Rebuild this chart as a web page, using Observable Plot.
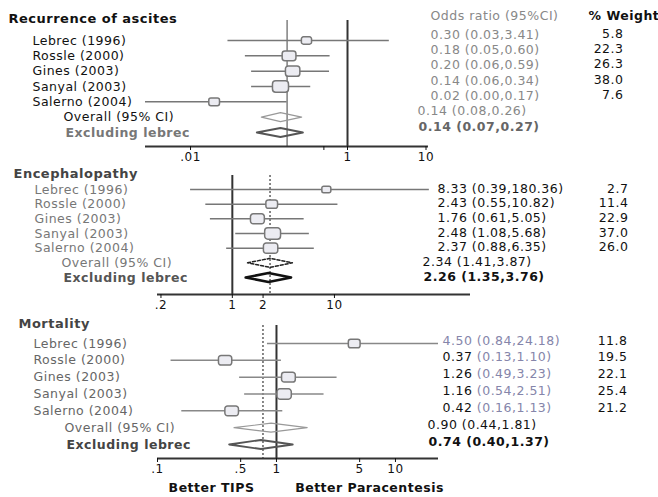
<!DOCTYPE html>
<html><head><meta charset="utf-8">
<script src="https://cdn.jsdelivr.net/npm/d3@7"></script>
<script src="https://cdn.jsdelivr.net/npm/@observablehq/plot@0.6"></script>
<style>body{margin:0;background:#fff} #chart svg{display:block}</style>
</head><body><div id="chart"></div>
<script>
// ---------- data ----------
const studies = ["Lebrec (1996)", "Rossle (2000)", "Gines (2003)", "Sanyal (2003)", "Salerno (2004)"];
const summaryLabels = ["Overall (95% CI)", "Excluding lebrec"];
const panelTitles = ["Recurrence of ascites", "Encephalopathy", "Mortality"];
const headerOR = "Odds ratio (95%CI)";
const headerW = "% Weight";
const sideLabels = ["Better TIPS", "Better Paracentesis"];

const ascitesOR = [0.30, 0.18, 0.20, 0.14, 0.02];
const ascitesLo = [0.03, 0.05, 0.06, 0.06, 0.00];
const ascitesHi = [3.41, 0.60, 0.59, 0.34, 0.17];
const ascitesWeight = [5.8, 22.3, 26.3, 38.0, 7.6];
const ascitesSumOR = [0.14, 0.14];
const ascitesSumLo = [0.08, 0.07];
const ascitesSumHi = [0.26, 0.27];
const ascitesTicks = [0.01, 0.5, 1, 10];
const ascitesTickLabels = [".01", ".5", "1", "10"];

const encOR = [8.33, 2.43, 1.76, 2.48, 2.37];
const encLo = [0.39, 0.55, 0.61, 1.08, 0.88];
const encHi = [180.36, 10.82, 5.05, 5.68, 6.35];
const encWeight = [2.7, 11.4, 22.9, 37.0, 26.0];
const encSumOR = [2.34, 2.26];
const encSumLo = [1.41, 1.35];
const encSumHi = [3.87, 3.76];
const encTicks = [0.2, 1, 2, 10];
const encTickLabels = [".2", "1", "2", "10"];

const mortOR = [4.50, 0.37, 1.26, 1.16, 0.42];
const mortLo = [0.84, 0.13, 0.49, 0.54, 0.16];
const mortHi = [24.18, 1.10, 3.23, 2.51, 1.13];
const mortWeight = [11.8, 19.5, 22.1, 25.4, 21.2];
const mortSumOR = [0.90, 0.74];
const mortSumLo = [0.44, 0.40];
const mortSumHi = [1.81, 1.37];
const mortTicks = [0.1, 0.5, 1, 5, 10];
const mortTickLabels = [".1", ".5", "1", "5", "10"];

const refLines = [0.17, 2.34, 0.77];

// ---------- helpers ----------
const W = 658;
const FONT = "DejaVu Sans, sans-serif";
const FS = 12.5;
const LS = 0.5;
const ctx2d = document.createElement("canvas").getContext("2d");
function textW(str, size = FS, weight = "normal") {
  ctx2d.font = `${weight} ${size}px "DejaVu Sans"`;
  return ctx2d.measureText(str).width + LS * str.length;
}
const f2 = v => v.toFixed(2);

function buildRows(or, lo, hi, w, sOr, sLo, sHi) {
  const r = studies.map((label, i) => ({i, label, or: or[i], lo: lo[i], hi: hi[i], w: w[i], kind: "study"}));
  summaryLabels.forEach((label, j) => r.push({i: 5 + j, label, or: sOr[j], lo: sLo[j], hi: sHi[j], w: null, kind: j === 0 ? "overall" : "excl"}));
  return r;
}

const box = {
  draw(ctx, size) {
    const r = Math.sqrt(size / Math.PI);
    const w = r, h = r * 0.72, c = h * 0.55;
    ctx.moveTo(-w + c, -h); ctx.lineTo(w - c, -h); ctx.arcTo(w, -h, w, -h + c, c);
    ctx.lineTo(w, h - c); ctx.arcTo(w, h, w - c, h, c);
    ctx.lineTo(-w + c, h); ctx.arcTo(-w, h, -w, h - c, c);
    ctx.lineTo(-w, -h + c); ctx.arcTo(-w, -h, -w + c, -h, c);
    ctx.closePath();
  }
};

function txt(data, o) {
  return Plot.text(data, {fontFamily: FONT, fontSize: FS, lineAnchor: "middle", textAnchor: "start", ...o});
}

function panel(p) {
  const frameL = p.mL, frameR = W - p.mR, frameB = p.height - p.mB;
  const step = (p.yRange[1] - p.yRange[0]) / 6;
  const axisIdx = (frameB - p.yRange[0]) / step;
  const clipMax = p.clipMax ?? p.domain[1];
  const rows = p.rows.map(d => ({
    ...d,
    loD: Math.max(d.lo, p.domain[0]),
    hiD: Math.min(d.hi, clipMax),
    text: `${f2(d.or)} (${f2(d.lo)},${f2(d.hi)})`,
    est: f2(d.or),
    ci: `(${f2(d.lo)},${f2(d.hi)})`,
    wt: d.w == null ? "" : d.w.toFixed(1),
    r: d.w == null ? 0 : 3.2 + Math.sqrt(d.w) * 0.78
  }));
  const st = rows.filter(d => d.kind === "study");
  const ov = rows.filter(d => d.kind === "overall");
  const ex = rows.filter(d => d.kind === "excl");
  const hh = 4.5 / step;
  const diamond = d => [{x: d.lo, y: d.i}, {x: d.or, y: d.i - hh}, {x: d.hi, y: d.i}, {x: d.or, y: d.i + hh}];
  const s = p.style;

  const marks = [
    Plot.ruleX([p.ref], {stroke: s.refColor, strokeWidth: 1.4, strokeDasharray: s.refDash}),
    Plot.ruleX([1], {stroke: "#333", strokeWidth: 2}),
    Plot.ruleY(st, {y: "i", x1: "loD", x2: "hiD", stroke: s.ci, strokeWidth: 1.5}),
    Plot.dot(st, {x: "or", y: "i", r: "r", symbol: box, fill: "#ececf2", stroke: "#777", strokeWidth: 1.5}),
    Plot.line(ov.flatMap(diamond), {x: "x", y: "y", curve: "linear-closed", stroke: s.ovStroke, strokeWidth: s.ovWidth, strokeDasharray: s.ovDash}),
    Plot.line(ex.flatMap(diamond), {x: "x", y: "y", curve: "linear-closed", stroke: s.exStroke, strokeWidth: s.exWidth}),
    Plot.ruleY([axisIdx], {stroke: "#333", strokeWidth: 2}),
    Plot.axisX({ticks: p.ticks, tickFormat: d => p.tickLabels[p.ticks.indexOf(d)], tickSize: 4, tickPadding: 2, label: null, fontSize: 12, fontFamily: FONT}),
    // title
    txt([p.title], {text: d => d, frameAnchor: "top-left", dx: p.titleX - frameL, dy: -2, fontWeight: "bold", fontSize: 13, fill: s.title}),
    // labels
    txt(st, {y: "i", text: "label", frameAnchor: "left", dx: p.labelX - frameL, fill: s.label}),
    txt(ov, {y: "i", text: "label", frameAnchor: "left", dx: p.sumLabelX - frameL, fill: s.label}),
    txt(ex, {y: "i", text: "label", frameAnchor: "left", dx: p.sumLabelX + 2 - frameL, fill: s.exLabel, fontWeight: "bold"}),
    // weights
    txt(st, {y: "i", text: "wt", frameAnchor: "right", dx: p.weightX - frameR, dy: p.weightDy, textAnchor: "end", fill: "#111"}),
    // summary values
    txt(ov, {y: "i", text: "text", frameAnchor: "right", dx: p.sumX - frameR, dy: p.textDy, fill: s.ovVal}),
    txt(ex, {y: "i", text: "text", frameAnchor: "right", dx: p.sumX + 1 - frameR, dy: p.textDy, fill: s.exVal, fontWeight: "bold"})
  ];
  if (s.splitCI) {
    const off = textW(st[1].est + " ");
    const first = st.slice(0, 1), rest = st.slice(1);
    marks.push(
      txt(first, {y: "i", text: "text", frameAnchor: "right", dx: p.valueX - frameR, dy: p.textDy, fill: s.ciText}),
      txt(rest, {y: "i", text: "est", frameAnchor: "right", dx: p.valueX - frameR, dy: p.textDy, fill: s.val}),
      txt(rest, {y: "i", text: "ci", frameAnchor: "right", dx: p.valueX + off - frameR, dy: p.textDy, fill: s.ciText})
    );
  } else {
    marks.push(txt(st, {y: "i", text: "text", frameAnchor: "right", dx: p.valueX - frameR, dy: p.textDy, fill: s.val}));
  }
  if (p.header) {
    marks.push(
      txt([headerOR], {text: d => d, frameAnchor: "top-right", dx: 430 - frameR, dy: -5, fill: "#888"}),
      txt([headerW], {text: d => d, frameAnchor: "top-right", dx: 588 - frameR, dy: -5, fill: "#111", fontWeight: "bold"})
    );
  }
  if (p.side) {
    marks.push(
      txt([sideLabels[0]], {text: d => d, frameAnchor: "bottom-left", dx: 211 - frameL, dy: 29, textAnchor: "middle", fontSize: 12.5, fontWeight: "bold", fill: "#111"}),
      txt([sideLabels[1]], {text: d => d, frameAnchor: "bottom-left", dx: 369 - frameL, dy: 29, textAnchor: "middle", fontSize: 12.5, fontWeight: "bold", fill: "#111"})
    );
  }
  return Plot.plot({
    width: W, height: p.height,
    marginTop: p.mT, marginBottom: p.mB, marginLeft: p.mL, marginRight: p.mR,
    x: {type: "log", domain: p.domain},
    y: {domain: [0, 6], range: p.yRange, axis: null},
    r: {type: "identity"},
    style: {fontFamily: FONT, color: "#111", letterSpacing: LS + "px", background: "#fff", overflow: "visible"},
    marks
  });
}

const chart = document.getElementById("chart");

chart.append(panel({
  rows: buildRows(ascitesOR, ascitesLo, ascitesHi, ascitesWeight, ascitesSumOR, ascitesSumLo, ascitesSumHi),
  title: panelTitles[0], ticks: ascitesTicks, tickLabels: ascitesTickLabels, ref: refLines[0],
  height: 160, mT: 20, mB: 14, mL: 145, mR: 230, yRange: [40, 132], domain: [0.00267, 10.76],
  titleX: 8, labelX: 32, sumLabelX: 63, valueX: 430, sumX: 417, weightX: 623, textDy: -6, weightDy: -7,
  header: true,
  style: {refColor: "#777", refDash: null, ci: "#777", ovStroke: "#999", ovWidth: 1.3, ovDash: null, exStroke: "#555", exWidth: 2,
          title: "#111", label: "#111", exLabel: "#777", val: "#888", ovVal: "#888", exVal: "#666"}
}));

chart.append(panel({
  rows: buildRows(encOR, encLo, encHi, encWeight, encSumOR, encSumLo, encSumHi),
  title: panelTitles[1], ticks: encTicks, tickLabels: encTickLabels, ref: refLines[1],
  height: 152, mT: 15, mB: 18, mL: 157, mR: 188, yRange: [29, 117], domain: [0.185, 215], clipMax: 85,
  titleX: 13, labelX: 34, sumLabelX: 61, valueX: 437, sumX: 422, weightX: 628, textDy: -1, weightDy: -1,
  style: {refColor: "#555", refDash: "2,2", ci: "#777", ovStroke: "#222", ovWidth: 1.5, ovDash: "3,2", exStroke: "#111", exWidth: 2.5,
          title: "#444", label: "#777", exLabel: "#555", val: "#111", ovVal: "#111", exVal: "#111"}
}));

chart.append(panel({
  rows: buildRows(mortOR, mortLo, mortHi, mortWeight, mortSumOR, mortSumLo, mortSumHi),
  title: panelTitles[2], ticks: mortTicks, tickLabels: mortTickLabels, ref: refLines[2],
  height: 185, mT: 13, mB: 39, mL: 157, mR: 220, yRange: [31, 132], domain: [0.1, 23],
  titleX: 18, labelX: 33, sumLabelX: 64, valueX: 442, sumX: 427, weightX: 627, textDy: -3, weightDy: -3,
  side: true,
  style: {refColor: "#555", refDash: "2,2", ci: "#888", ovStroke: "#999", ovWidth: 1.2, ovDash: null, exStroke: "#555", exWidth: 1.8,
          title: "#444", label: "#666", exLabel: "#444", val: "#111", ovVal: "#111", exVal: "#111", ciText: "#8585aa", splitCI: true}
}));
</script>
</body></html>
